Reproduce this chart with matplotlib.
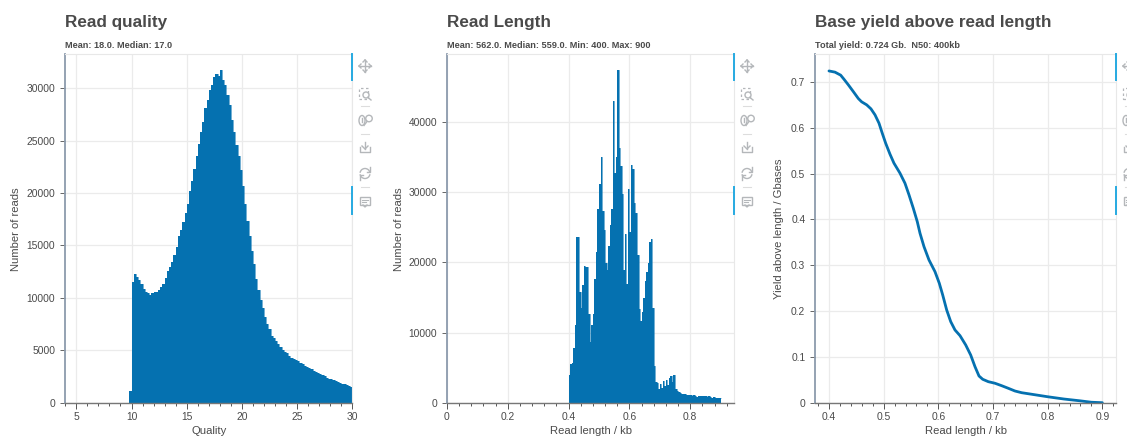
import matplotlib
matplotlib.use("Agg")
import matplotlib.pyplot as plt
from matplotlib.lines import Line2D
from matplotlib.patches import Rectangle, Ellipse, Arc
import numpy as np

W, H = 1127, 437

quality_start = 4.0
quality_bin = 0.2
quality_counts = [0] * 29 + [
    1100, 11500, 12300, 12000, 11700, 11300, 10850, 10600, 10450, 10300,
    10500, 10550, 10600, 10800, 11000, 11300, 11900, 12600, 12900, 13400,
    14100, 14900, 15900, 16500, 17200, 18100, 19000, 20200, 21200, 22300,
    23500, 24700, 25800, 26800, 28100, 28900, 29800, 30300, 31100, 31350,
    31150, 31700, 30800, 30300, 29400, 28400, 27000, 25800, 24600, 23500,
    22200, 20700, 19000, 17300, 15900, 14500, 13200, 11800, 10800, 9800,
    9000, 8200, 7500, 7000, 6400, 6200, 5900, 5600, 5300, 5000,
    4800, 4700, 4500, 4300, 4200, 4100, 3950, 3800, 3700, 3500,
    3400, 3300, 3200, 3050, 2900, 2800, 2750, 2650, 2550, 2350,
    2300, 2250, 2150, 2050, 1950, 1850, 1800, 1750, 1700, 1600,
    1500]

length_start = 0.4
length_bin = 0.005
length_counts = [
    4000, 5500, 5600, 7800, 11100, 23600, 23600, 15800, 13500, 16800,
    19500, 19400, 19300, 12600, 8700, 11100, 12700, 17700, 21500, 27700,
    31200, 35000, 27400, 24700, 19900, 19000, 22400, 25400, 27700, 43100,
    32700, 35000, 47400, 36400, 33700, 29800, 19000, 24000, 17000, 30500,
    24300, 33900, 33400, 28500, 27000, 21100, 13300, 11700, 13000, 15000,
    17400, 18700, 19900, 22900, 23400, 13500, 5300, 3000, 2800, 1900,
    2700, 2100, 3100, 2400, 3300, 2500, 3500, 3800, 3000, 4000,
    1900, 1700, 1500, 1400, 1300, 1200, 1200, 1150, 1150, 1100,
    1100, 1000, 1100, 900, 800, 1000, 900, 950, 900, 900,
    1000, 800, 950, 850, 700, 750, 650, 650, 700, 700]

yield_length = [0.4, 0.411, 0.4214, 0.4274, 0.4354, 0.4445, 0.4537, 0.4598, 0.469, 0.4768,
                0.4842, 0.4915, 0.4975, 0.5037, 0.5116, 0.5189, 0.5299, 0.539, 0.5464, 0.5542,
                0.5615, 0.5665, 0.5738, 0.5829, 0.5939, 0.6018, 0.608, 0.6153, 0.6227, 0.6305,
                0.6397, 0.6501, 0.6592, 0.6671, 0.6744, 0.6812, 0.6914, 0.7037, 0.7159, 0.7281,
                0.7403, 0.7525, 0.7677, 0.8, 0.83, 0.86, 0.88, 0.9]
yield_gb = [0.724, 0.7214, 0.7148, 0.706, 0.6937, 0.679, 0.6638, 0.6566, 0.65, 0.6413,
            0.6282, 0.61, 0.588, 0.5663, 0.5424, 0.5227, 0.5009, 0.479, 0.4535, 0.4245,
            0.3952, 0.3699, 0.3406, 0.3116, 0.286, 0.2607, 0.2352, 0.2024, 0.1769, 0.1587,
            0.1463, 0.126, 0.1041, 0.0786, 0.0583, 0.0511, 0.0459, 0.0424, 0.0371, 0.0314,
            0.0255, 0.0218, 0.019, 0.013, 0.008, 0.004, 0.001, 0.0]

titles = ["Read quality", "Read Length", "Base yield above read length"]
subtitles = ["Mean: 18.0. Median: 17.0",
             "Mean: 562.0. Median: 559.0. Min: 400. Max: 900",
             "Total yield: 0.724 Gb.  N50: 400kb"]
xlabels = ["Quality", "Read length / kb", "Read length / kb"]
ylabels = ["Number of reads", "Number of reads", "Yield above length / Gbases"]

plt.rcParams['font.family'] = ['Liberation Sans', 'DejaVu Sans']

BLUE = '#0571b0'
TEXT = '#4a4a4a'
ICON = '#b4b7ba'

fig = plt.figure(figsize=(W / 100, H / 100), dpi=100)


def add_panel(left, right, top=54, bottom=402.7):
    ax = fig.add_axes([left / W, 1 - bottom / H, (right - left) / W, (bottom - top) / H])
    ax.set_axisbelow(True)
    ax.grid(True, color='#ebebeb', lw=0.9)
    for s in ['top', 'right']:
        ax.spines[s].set_color('#e8e8e8')
        ax.spines[s].set_linewidth(0.8)
    ax.spines['left'].set_color('#8c9bad')
    ax.spines['left'].set_linewidth(1.3)
    ax.spines['bottom'].set_color('#777777')
    ax.spines['bottom'].set_linewidth(1.0)
    ax.tick_params(axis='y', which='major', labelsize=7.4, labelcolor=TEXT,
                   color='#666666', length=3.6, width=0.7, pad=3.6)
    ax.tick_params(axis='x', which='major', labelsize=7.4, labelcolor=TEXT,
                   color='#555555', length=4, width=0.7, pad=3)
    ax.tick_params(axis='x', which='minor', length=2.5, width=0.7, color='#555555')
    return ax


def px_line(xs, ys, color=ICON, lw=1.0):
    fig.add_artist(Line2D([x / W for x in xs], [1 - y / H for y in ys],
                          color=color, lw=lw, transform=fig.transFigure))


def toolbar(cx, bar_x):
    # bokeh toolbar, drawn by hand
    tf = fig.transFigure
    for y0, y1 in [(54, 80), (187, 214)]:
        px_line([bar_x, bar_x], [y0, y1], color='#26aae1', lw=1.4)
    for y in [106, 134, 187]:
        px_line([cx - 4, cx + 4], [y, y], color='#dddddd', lw=0.8)
    # move
    px_line([cx - 6, cx + 6], [66, 66])
    px_line([cx, cx], [60, 72])
    for a, b in [((-6, 66), (-4, 64)), ((-6, 66), (-4, 68)), ((6, 66), (4, 64)), ((6, 66), (4, 68))]:
        px_line([cx + a[0], cx + b[0]], [a[1], b[1]])
    for a, b in [((0, 60), (-2, 62)), ((0, 60), (2, 62)), ((0, 72), (-2, 70)), ((0, 72), (2, 70))]:
        px_line([cx + a[0], cx + b[0]], [a[1], b[1]])
    # box zoom
    fig.add_artist(Rectangle(((cx - 6) / W, 1 - 99 / H), 9 / W, 11 / H, fill=False, ec=ICON,
                             lw=0.9, ls=(0, (2, 2)), transform=tf))
    fig.add_artist(Ellipse(((cx + 1) / W, 1 - 95 / H), 6 / W, 6 / H, fill=False, ec=ICON, lw=1, transform=tf))
    px_line([cx + 3, cx + 6], [97.5, 100])
    # wheel zoom
    fig.add_artist(Ellipse(((cx - 3) / W, 1 - 120.5 / H), 6 / W, 10 / H, fill=False, ec=ICON, lw=1, transform=tf))
    px_line([cx - 3, cx - 3], [118, 122])
    fig.add_artist(Ellipse(((cx + 4) / W, 1 - 118.5 / H), 6.5 / W, 6.5 / H, fill=False, ec=ICON, lw=1, transform=tf))
    px_line([cx + 2, cx - 1], [121.5, 125.5])
    # save
    px_line([cx - 5, cx - 5, cx + 5, cx + 5], [147, 152, 152, 147])
    px_line([cx, cx], [142, 149])
    px_line([cx - 3, cx, cx + 3], [146, 149, 146])
    # reset
    fig.add_artist(Arc((cx / W, 1 - 173.5 / H), 10 / W, 10 / H, theta1=20, theta2=160, ec=ICON, lw=1, transform=tf))
    fig.add_artist(Arc((cx / W, 1 - 173.5 / H), 10 / W, 10 / H, theta1=200, theta2=340, ec=ICON, lw=1, transform=tf))
    px_line([cx + 5, cx + 5, cx + 2], [167, 172, 172])
    px_line([cx - 5, cx - 5, cx - 2], [180, 175, 175])
    # comment
    fig.add_artist(Rectangle(((cx - 5) / W, 1 - 205 / H), 10 / W, 8 / H, fill=False, ec=ICON, lw=1, transform=tf))
    px_line([cx - 3, cx + 3], [199.5, 199.5], lw=0.8)
    px_line([cx - 3, cx + 1], [202, 202], lw=0.8)
    px_line([cx - 2, cx, cx + 2], [205, 207, 205])


def labels(i, left, right, ylab_x):
    fig.text(left / W, 1 - 26.7 / H, titles[i], fontsize=12.3, fontweight='bold', color=TEXT, va='baseline')
    fig.text(left / W, 1 - 48 / H, subtitles[i], fontsize=6.55, fontweight='bold', color=TEXT, va='baseline')
    fig.text((left + right) / 2 / W, 0.5 / H, xlabels[i], fontsize=8.1, color=TEXT, ha='center', va='bottom')
    fig.text(ylab_x / W, 1 - 228.7 / H, ylabels[i], fontsize=8.1, color=TEXT, rotation=90, va='center', ha='center')


def histogram(ax, counts, start, width):
    edges = start + width * np.arange(len(counts) + 1)
    ax.stairs(counts, edges, fill=True, color=BLUE, lw=0)
    ax.stairs(counts, edges, color=BLUE, lw=0.4, baseline=None)


# quality histogram
ax1 = add_panel(65.3, 352.3)
histogram(ax1, quality_counts, quality_start, quality_bin)
ax1.set_xlim(4, 30)
ax1.set_ylim(0, 33270)
ax1.set_xticks([5, 10, 15, 20, 25, 30])
ax1.set_xticks(np.arange(4, 31), minor=True)
ax1.set_yticks([0, 5000, 10000, 15000, 20000, 25000, 30000])
labels(0, 65.3, 352.3, 16.5)
toolbar(365, 352.3)

# length histogram
ax2 = add_panel(447, 734.3)
histogram(ax2, length_counts, length_start, length_bin)
ax2.set_xlim(0, 0.945)
ax2.set_ylim(0, 49740)
ax2.set_xticks([0, 0.2, 0.4, 0.6, 0.8])
ax2.set_xticklabels(['0', '0.2', '0.4', '0.6', '0.8'])
ax2.set_xticks(np.arange(0, 0.945, 0.04), minor=True)
ax2.set_yticks([0, 10000, 20000, 30000, 40000])
labels(1, 447, 734.3, 398.5)
toolbar(747, 734.3)

# cumulative yield
ax3 = add_panel(815.3, 1116)
ax3.plot(yield_length, yield_gb, color=BLUE, lw=2.0, solid_capstyle='round', solid_joinstyle='round')
ax3.set_xlim(0.375, 0.925)
ax3.set_ylim(0, 0.761)
ax3.set_xticks([0.4, 0.5, 0.6, 0.7, 0.8, 0.9])
ax3.set_xticks(np.arange(0.38, 0.93, 0.02), minor=True)
ax3.set_yticks([0, 0.1, 0.2, 0.3, 0.4, 0.5, 0.6, 0.7])
ax3.set_yticklabels(['0', '0.1', '0.2', '0.3', '0.4', '0.5', '0.6', '0.7'])
labels(2, 815.3, 1116, 779.5)
toolbar(1129, 1116)

fig.savefig("out.png", dpi=100)
plt.close()
